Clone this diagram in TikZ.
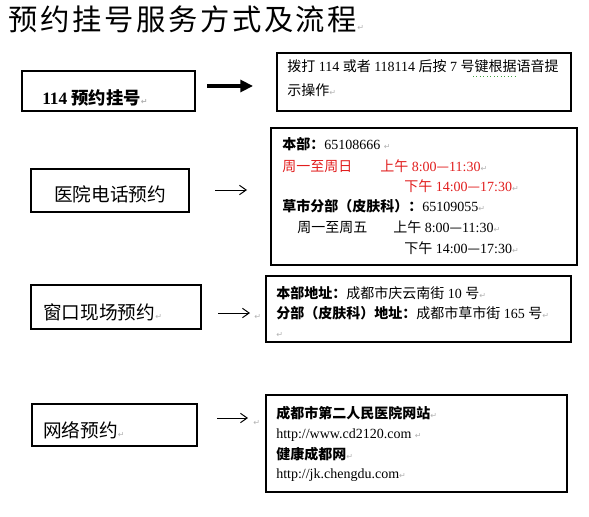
\documentclass[tikz,border=0pt]{standalone}
\usepackage{fontspec}
\usetikzlibrary{arrows.meta,fit}
\setmainfont{Liberation Serif}
\newfontfamily\cjk{Noto Sans CJK SC}
\newfontfamily\cjktitle[LetterSpace=9]{Noto Sans CJK SC}
\newfontfamily\dejavu{DejaVu Sans}
\newcommand\zh[1]{{\cjk #1}}
\newcommand\zhb[1]{{\cjk\bfseries #1}}
\newcommand\pmk{{\dejavu\fontsize{6pt}{6pt}\selectfont\color{gray!60}↵}}
\definecolor{hred}{RGB}{225,30,30}
\definecolor{spell}{RGB}{60,160,60}
\tikzset{
  box/.style={draw=black, line width=0.8pt, inner sep=0pt, fit={#1}},
  txt/.style={inner sep=0pt, anchor=base west, font=\fontsize{10.5pt}{12pt}\selectfont},
  bigtxt/.style={inner sep=0pt, font=\fontsize{14pt}{16pt}\selectfont},
  thickarrow/.style={line width=2.3pt, -{Triangle[length=9.5pt,width=9pt]}},
  thinarrow/.style={line width=0.75pt, -{Straight Barb[length=5pt,width=7pt]}},
}
\begin{document}
\begin{tikzpicture}[x=0.75pt, y=-0.75pt]
\useasboundingbox (0,0) rectangle (589,517);
% title
\node[inner sep=0pt, anchor=base west, font=\fontsize{22pt}{24pt}\selectfont] (title) at (8,31) {{\cjktitle 预约挂号服务方式及流程}\pmk};

% row 1
\node[box={(22,71) (195,111)}] (b1) {};
\node[inner sep=0pt, anchor=base west, font=\fontsize{13pt}{15pt}\selectfont\bfseries] (t1) at (42,104) {114 \zhb{预约挂号}\pmk};
\coordinate (a1s) at (207,86);
\coordinate (a1e) at (253,86);
\draw[thickarrow] (a1s) -- (a1e);
\node[box={(277,53) (571,111)}] (b2) {};
\node[txt] (t2a) at (287,72) {\zh{拨打} 114 \zh{或者} 118114 \zh{后按} 7 \zh{号键根据语音提}};
\node[txt] (t2b) at (287,95) {\zh{示操作}\pmk};
\draw[spell, line width=0.6pt, dotted] (473,76) -- (517,76);

% row 2
\node[box={(31,169) (189,212)}] (b3) {};
\node[bigtxt, anchor=base] (t3) at (110,201) {\zh{医院电话预约}};
\coordinate (a3s) at (215,190);
\coordinate (a3e) at (247,190);
\draw[thinarrow] (a3s) -- (a3e);
\node[box={(271,128) (577,265)}] (b4) {};
\node[txt] (t4a) at (282,149) {\zhb{本部：}65108666 \pmk};
\node[txt, text=hred] (t4b) at (282,171) {\zh{周一至周日}};
\node[txt, text=hred] (t4c) at (380,171) {\zh{上午} 8:00\zh{—}11:30\pmk};
\node[txt, text=hred] (t4d) at (404,191) {\zh{下午} 14:00\zh{—}17:30\pmk};
\node[txt] (t4e) at (282,211) {\zhb{草市分部（皮肤科）：}65109055\pmk};
\node[txt] (t4f) at (297,232) {\zh{周一至周五}};
\node[txt] (t4g) at (393,232) {\zh{上午} 8:00\zh{—}11:30\pmk};
\node[txt] (t4h) at (404,253) {\zh{下午} 14:00\zh{—}17:30\pmk};

% row 3
\node[box={(31,285) (201,329)}] (b6) {};
\node[bigtxt, anchor=base west] (t6) at (43,319) {\zh{窗口现场预约}\pmk};
\coordinate (a5s) at (218,313);
\coordinate (a5e) at (250,313);
\draw[thinarrow] (a5s) -- (a5e);
\node[txt] (m5) at (254,319) {\pmk};
\node[box={(266,276) (571,342)}] (b5) {};
\node[txt] (t5a) at (276,298) {\zhb{本部地址：}\zh{成都市庆云南街} 10 \zh{号}\pmk};
\node[txt] (t5b) at (276,318) {\zhb{分部（皮肤科）地址：}\zh{成都市草市街} 165 \zh{号}\pmk};
\node[txt] (t5c) at (276,337) {\pmk};

% row 4
\node[box={(32,404) (197,446)}] (b8) {};
\node[bigtxt, anchor=base west] (t8) at (43,437) {\zh{网络预约}\pmk};
\coordinate (a7s) at (217,418);
\coordinate (a7e) at (248,418);
\draw[thinarrow] (a7s) -- (a7e);
\node[txt] (m7) at (253,425) {\pmk};
\node[box={(266,395) (567,492)}] (b7) {};
\node[txt] (t7a) at (276,418) {\zhb{成都市第二人民医院网站}\pmk};
\node[txt] (t7b) at (276,438) {http://www.cd2120.com \pmk};
\node[txt] (t7c) at (276,459) {\zhb{健康成都网}\pmk};
\node[txt] (t7d) at (276,478) {http://jk.chengdu.com\pmk};
\end{tikzpicture}
\end{document}
